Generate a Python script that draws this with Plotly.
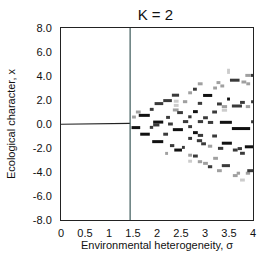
import plotly.graph_objects as go

# ---- data ----
threshold_sigma = 1.44
baseline_sigma = [0.0, 1.44]
baseline_x = [-0.02, 0.06]

# dashes: (sigma_start, sigma_end, x)
black_dashes = [(1.62, 1.85, 0.72), (1.92, 2.13, 0.16), (2.96, 3.15, 2.38), (2.75, 2.85, 1.03),
                (3.31, 3.56, 0.14), (3.46, 3.52, 2.08), (1.47, 1.65, -0.3), (2.33, 2.54, -0.47),
                (3.56, 3.94, -0.38), (1.65, 1.85, -0.85), (2.75, 2.85, -0.72), (1.90, 2.13, -1.47),
                (2.36, 2.52, -2.17), (3.35, 3.56, -1.6), (3.83, 4.0, -1.9)]
dark_dashes = [(1.85, 1.93, 1.22), (1.95, 2.13, 1.7), (2.13, 2.31, 1.95), (2.31, 2.46, 2.4),
               (3.52, 3.72, 3.65), (3.95, 4.0, 4.05), (2.19, 2.27, 0.55), (2.42, 2.54, 0.95),
               (2.54, 2.65, 0.2), (2.85, 2.96, 0.2), (2.96, 3.06, 0.52), (3.06, 3.17, 0.13),
               (3.15, 3.25, 1.0), (3.25, 3.35, 1.67), (3.56, 3.77, 1.5), (3.73, 3.83, 1.8),
               (3.96, 4.0, 1.85), (3.96, 4.0, 0.18), (2.23, 2.33, 0.0), (2.85, 2.94, 1.72),
               (2.65, 2.72, 0.6), (1.85, 1.92, -0.28), (2.13, 2.23, -0.85), (2.65, 2.73, -0.22),
               (2.65, 2.73, -1.2), (3.15, 3.25, -1.0), (2.85, 2.96, -0.95), (2.27, 2.36, -1.8),
               (2.52, 2.58, -1.95), (2.83, 2.94, -1.39), (2.92, 3.02, -1.65), (3.27, 3.38, -2.03),
               (3.58, 3.68, -2.17), (3.68, 3.77, -2.05), (3.73, 3.83, -2.44), (2.75, 2.85, -2.67),
               (3.06, 3.15, -3.56), (3.35, 3.52, -3.47), (3.88, 4.0, -3.89), (1.92, 2.05, -0.08),
               (2.75, 2.83, 2.9)]
grey_dashes = [(1.48, 1.56, 0.58), (1.56, 1.66, 1.0), (2.65, 2.73, 2.6), (2.85, 2.95, 3.35),
               (3.17, 3.25, 3.0), (3.24, 3.32, 3.45), (3.76, 3.86, 3.5), (3.84, 3.94, 4.05),
               (3.86, 3.94, 3.35), (2.33, 2.45, 1.17), (3.35, 3.46, 1.45), (3.85, 3.94, 1.45),
               (2.17, 2.23, -2.45), (3.06, 3.15, -1.85), (2.65, 2.73, -2.6), (2.85, 2.94, -3.14),
               (2.96, 3.06, -3.28), (3.17, 3.27, -2.86), (3.25, 3.35, -3.89), (3.58, 3.68, -4.3),
               (3.66, 3.73, -4.1), (3.85, 3.94, -4.1), (3.32, 3.40, 3.17), (2.54, 2.63, 1.86)]
light_dashes = [(3.46, 3.52, 4.3), (2.35, 2.45, 1.9), (2.35, 2.45, 1.55), (3.35, 3.46, 1.15),
                (2.65, 2.73, -3.1), (3.73, 3.83, -4.67), (3.46, 3.52, 4.48)]

x_ticks = [0, 0.5, 1, 1.5, 2, 2.5, 3, 3.5, 4]
x_tick_labels = ["0", "0.5", "1", "1.5", "2", "2.5", "3", "3.5", "4"]
y_ticks = [8, 6, 4, 2, 0, -2, -4, -6, -8]
y_tick_labels = ["8.0", "6.0", "4.0", "2.0", "0.0", "-2.0", "-4.0", "-6.0", "-8.0"]

FONT = "Liberation Sans, Arial, Helvetica, sans-serif"

fig = go.Figure()


def add_dashes(dashes, color):
    xs, ys = [], []
    for s0, s1, v in dashes:
        xs += [s0, s1, None]
        ys += [v, v, None]
    fig.add_trace(go.Scatter(x=xs, y=ys, mode="lines",
                             line=dict(color=color, width=3), hoverinfo="skip"))


fig.add_trace(go.Scatter(x=baseline_sigma, y=baseline_x, mode="lines",
                         line=dict(color="#222222", width=1.2), hoverinfo="skip"))
fig.add_trace(go.Scatter(x=[threshold_sigma, threshold_sigma], y=[-8, 8], mode="lines",
                         line=dict(color="#3d5a5a", width=1.2), hoverinfo="skip"))
add_dashes(light_dashes, "#cccccc")
add_dashes(grey_dashes, "#a0a0a0")
add_dashes(dark_dashes, "#3a3a3a")
add_dashes(black_dashes, "#111111")

fig.update_layout(
    width=259, height=258,
    margin=dict(l=61, r=6, t=28, b=38, autoexpand=False),
    paper_bgcolor="white", plot_bgcolor="white",
    showlegend=False,
    font=dict(family=FONT, size=11, color="#111111"),
    title=dict(text="K = 2", x=0.600, xanchor="center", y=0.942, yanchor="middle",
               font=dict(family=FONT, size=15, color="#111111")),
)
fig.update_xaxes(range=[0, 4], tickvals=x_ticks, ticktext=x_tick_labels,
                 showgrid=False, zeroline=False, showline=True, linecolor="#222222",
                 linewidth=1, mirror=True, ticks="outside", ticklen=3, tickcolor="white",
                 ticklabeloverflow="allow", tickfont=dict(size=11),
                 title=dict(text="Environmental heterogeneity, σ", standoff=1,
                            font=dict(family=FONT, size=11)))
fig.update_yaxes(range=[-8, 8], tickvals=y_ticks, ticktext=y_tick_labels,
                 showgrid=False, zeroline=False, showline=True, linecolor="#222222",
                 linewidth=1, mirror=True, ticks="outside", ticklen=6, tickcolor="white",
                 tickfont=dict(size=11),
                 title=dict(text="Ecological character, x", standoff=14,
                            font=dict(family=FONT, size=11)))

fig.write_html(
    "out.html",
    config={"displayModeBar": False},
    post_script="document.body.style.margin='0';"
                "document.body.style.overflow='hidden';"
                "document.documentElement.style.overflow='hidden';",
)
